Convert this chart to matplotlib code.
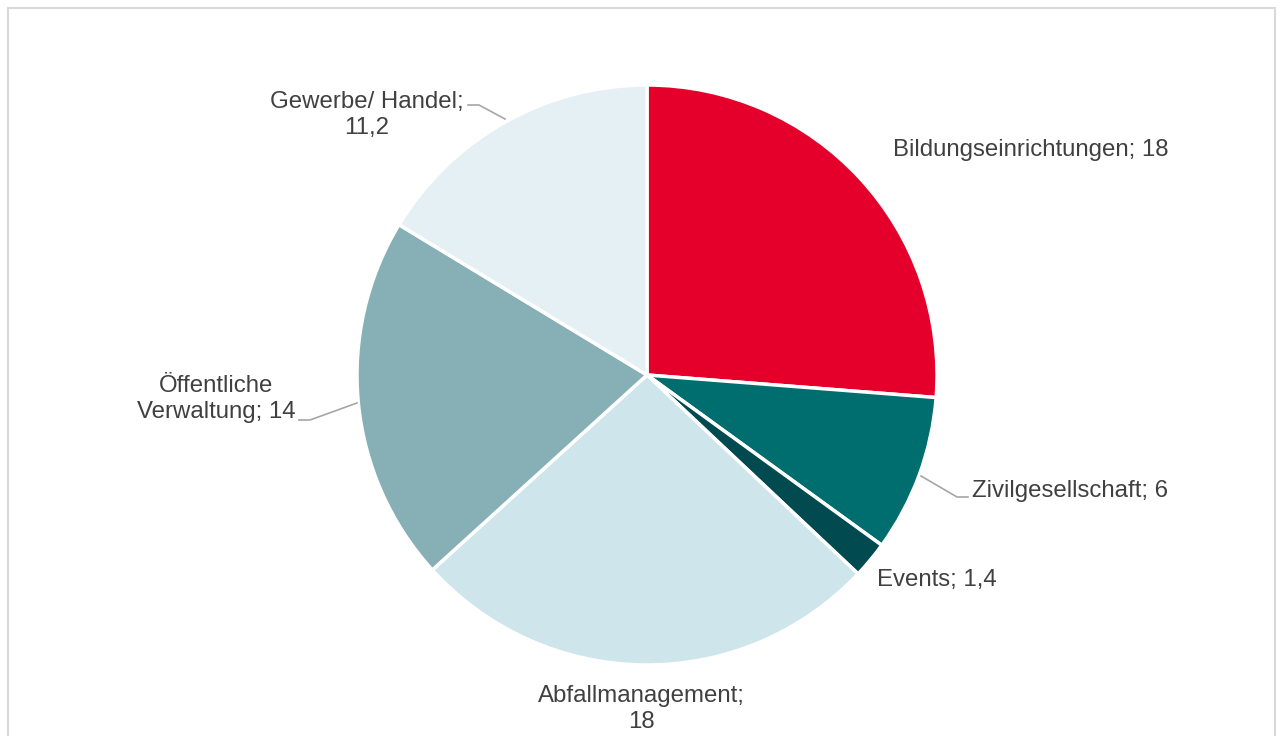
import matplotlib.pyplot as plt
from matplotlib.patches import Rectangle

plt.rcParams['font.family'] = ['Liberation Sans', 'DejaVu Sans']

# --- Daten ---
categories = ["Bildungseinrichtungen", "Zivilgesellschaft", "Events",
              "Abfallmanagement", "Öffentliche\nVerwaltung", "Gewerbe/ Handel"]
values = [18, 6, 1.4, 18, 14, 11.2]
value_labels = ["18", "6", "1,4", "18", "14", "11,2"]
colors = ["#E4002B", "#006E6F", "#004A50", "#CFE5EC", "#86B0B6", "#E5F0F5"]

W, H = 1283, 736
fig = plt.figure(figsize=(W / 100, H / 100), dpi=100)
ax = fig.add_axes([0, 0, 1, 1])

cx, cy, r = 647, H - 375, 290
ax.pie(values, colors=colors, startangle=90, counterclock=False,
       center=(cx, cy), radius=r,
       wedgeprops=dict(edgecolor="white", linewidth=2.5))
ax.set_xlim(0, W)
ax.set_ylim(0, H)
ax.set_aspect("equal")
ax.axis("off")

txt = "#404040"
fs = 17.3

# label text: (x, y in pixels from top, ha)
label_pos = [
    (893, 150, "left"),
    (972, 491, "left"),
    (877, 580, "left"),
    (641, 709, "center"),
    (216, 399, "center"),
    (367, 115, "center"),
]
texts = [
    f"{categories[0]}; {value_labels[0]}",
    f"{categories[1]}; {value_labels[1]}",
    f"{categories[2]}; {value_labels[2]}",
    f"{categories[3]};\n{value_labels[3]}",
    f"{categories[4]}; {value_labels[4]}",
    f"{categories[5]};\n{value_labels[5]}",
]
for (x, y, ha), t in zip(label_pos, texts):
    ax.text(x, H - y, t, ha=ha, va="center", fontsize=fs, color=txt,
            linespacing=1.18, multialignment="center")

# leader lines (pixel coordinates)
leaders = [
    [(921, 476), (957, 497), (968, 497)],
    [(357, 403), (310, 420), (299, 420)],
    [(505, 119), (479, 105), (468, 105)],
]
for pts in leaders:
    xs = [p[0] for p in pts]
    ys = [H - p[1] for p in pts]
    ax.plot(xs, ys, color="#A6A6A6", linewidth=1.2)

# border
fig.patches.append(Rectangle((8 / W, -0.05), (1275 - 8) / W, (H - 8) / H + 0.05,
                             transform=fig.transFigure, fill=False,
                             edgecolor="#D9D9D9", linewidth=1.5))

fig.savefig("out.png", dpi=100)
